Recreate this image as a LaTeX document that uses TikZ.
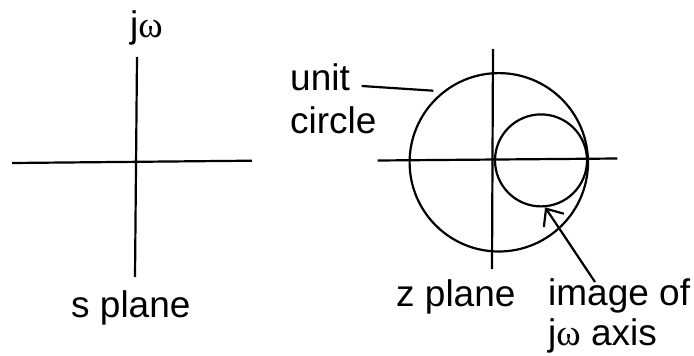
\documentclass[tikz,border=0pt]{standalone}
\usepackage{fontspec}
\setmainfont{Liberation Sans}
\newfontfamily\omegafont{Liberation Serif}
\usetikzlibrary{arrows.meta}
\newcommand{\jw}{j{\omegafont ω}}
\begin{document}
\begin{tikzpicture}[x=1pt,y=-1pt,
  axis/.style={line width=2.2pt},
  ring/.style={draw,circle,line width=2.2pt,inner sep=0pt},
  lbl/.style={anchor=base west,inner sep=0pt,font=\fontsize{37}{41}\selectfont}]
\useasboundingbox (0,0) rectangle (694,356);
% s plane
\coordinate (sl) at (12,163);
\coordinate (sr) at (252,160.7);
\coordinate (st) at (137,57);
\coordinate (sb) at (135,277);
\draw[axis] (sl) -- (sr);
\draw[axis] (st) -- (sb);
\node[lbl] (jwlabel) at (130,37) {\jw};
\node[lbl] (splane) at (71,317) {s plane};
% z plane
\coordinate (zl) at (377.7,160.5);
\coordinate (zr) at (617.3,158.5);
\coordinate (zt) at (493,49);
\coordinate (zb) at (492,269);
\draw[axis] (zl) -- (zr);
\draw[axis] (zt) -- (zb);
\node[ring,minimum size=178.4pt] (uc) at (498.8,162.3) {};
\node[ring,minimum size=92pt] (sc) at (541,160.4) {};
\node[lbl] (unit1) at (290,90.7) {unit};
\node[lbl] (unit2) at (290,133) {circle};
\coordinate (ucstart) at (361.7,86);
\coordinate (ucend) at (433.3,90.7);
\draw[axis] (ucstart) -- (ucend);
\node[lbl] (zplane) at (396,306.7) {z plane};
\node[lbl] (img1) at (548,305) {image of};
\node[lbl] (img2) at (548,345) {\jw{} axis};
\coordinate (arrstart) at (595,282);
\draw[axis,-{Straight Barb[length=14pt,width=24pt,line width=2.2pt]}] (arrstart) -- (sc.-85);
\end{tikzpicture}
\end{document}
